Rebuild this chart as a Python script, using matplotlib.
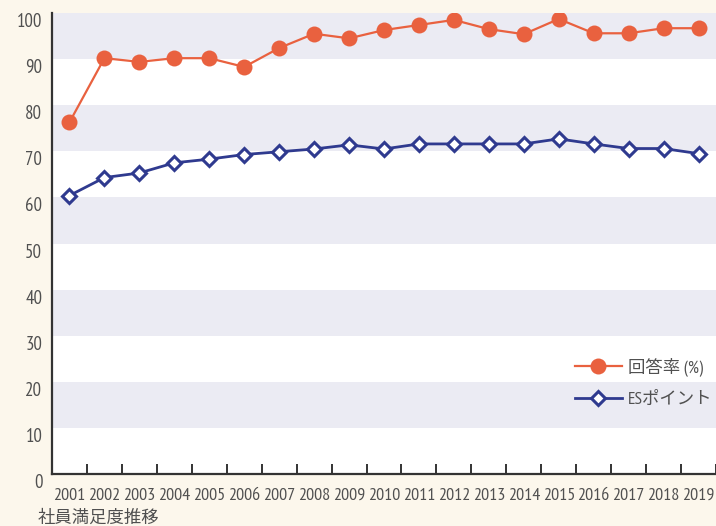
import matplotlib
matplotlib.use("Agg")
import matplotlib.pyplot as plt
from matplotlib.ticker import FixedLocator

# Employee satisfaction survey, 2001-2019
years = list(range(2001, 2020))
response_rate = [76.3, 90.2, 89.4, 90.2, 90.2, 88.3, 92.4, 95.5, 94.5, 96.3,
                 97.4, 98.5, 96.5, 95.4, 98.7, 95.6, 95.6, 96.7, 96.7]
es_points = [60.4, 64.3, 65.3, 67.5, 68.3, 69.3, 69.9, 70.5, 71.4, 70.5,
             71.6, 71.6, 71.6, 71.6, 72.7, 71.6, 70.6, 70.6, 69.5]
y_ticks = list(range(0, 101, 10))
legend_labels = ["回答率 (%)", "ESポイント"]
caption = "社員満足度推移"

BG = "#fcf7ec"
BAND = "#ebebf3"
RED = "#e9613f"
BLUE = "#2f3a8f"
TEXT = "#505050"
LATIN = ["PT Sans Narrow", "Noto Sans CJK JP", "DejaVu Sans"]
CJK = ["Noto Sans CJK JP", "DejaVu Sans"]

W, H = 716, 526
fig = plt.figure(figsize=(W / 100, H / 100), dpi=100, facecolor=BG)
ax = fig.add_axes([52 / W, (H - 474) / H, (716 - 52) / W, (474 - 13) / H])
ax.set_facecolor("white")

ax.set_xlim(years[0] - 0.5, years[-1] + 0.5)
ax.set_ylim(0, 100)

# alternating horizontal bands
for lo in range(10, 100, 20):
    ax.axhspan(lo, lo + 10, color=BAND, lw=0, zorder=0)

ax.plot(years, response_rate, color=RED, lw=1.6, marker="o", ms=11.5,
        mfc=RED, mec=RED, mew=0, zorder=3, label=legend_labels[0])
ax.plot(years, es_points, color=BLUE, lw=2.0, marker="D", ms=7.5,
        mfc="white", mec=BLUE, mew=2.2, zorder=3, label=legend_labels[1])

for side in ("top", "right"):
    ax.spines[side].set_visible(False)
for side in ("left", "bottom"):
    ax.spines[side].set_color("#333333")
    ax.spines[side].set_linewidth(1.6)

# year labels at the centres, tick marks between categories
ax.xaxis.set_major_locator(FixedLocator(years))
ax.set_xticklabels([str(y) for y in years])
ax.xaxis.set_minor_locator(FixedLocator([y + 0.5 for y in years]))
ax.tick_params(axis="x", which="major", length=0, pad=10, labelcolor=TEXT)
ax.tick_params(axis="x", which="minor", direction="in", length=7, width=1.4,
               color="#333333")
for t in ax.get_xticklabels():
    t.set_fontfamily(LATIN)
    t.set_fontsize(13)

ax.set_yticks(y_ticks)
ax.set_yticklabels([str(v) for v in y_ticks])
ax.tick_params(axis="y", length=0, pad=7, labelcolor=TEXT)
for t in ax.get_yticklabels():
    t.set_fontfamily(LATIN)
    t.set_fontsize(13.5)
    t.set_verticalalignment("top")

leg = ax.legend(loc="upper left", bbox_to_anchor=(575 / W, (H - 357) / H),
                bbox_transform=fig.transFigure, frameon=False,
                handlelength=2.7, handletextpad=0.35, labelspacing=0.9,
                borderaxespad=0, borderpad=0,
                prop={"family": LATIN, "size": 12.5})
for t in leg.get_texts():
    t.set_color(TEXT)

fig.text(38 / W, (H - 518) / H, caption, ha="left", va="center",
         fontsize=12.5, color=TEXT, family=CJK)

fig.savefig("out.png", dpi=100, facecolor=BG)
